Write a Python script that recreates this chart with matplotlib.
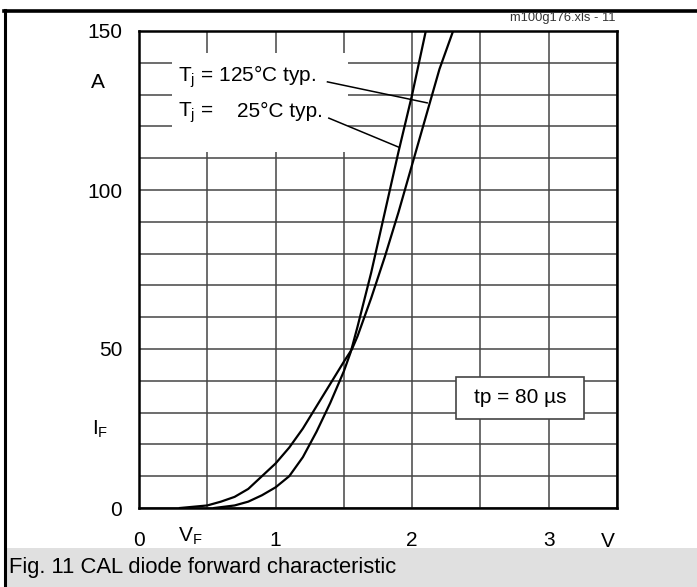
import numpy as np
import matplotlib
matplotlib.use("Agg")
import matplotlib.pyplot as plt
from matplotlib.patches import Rectangle
from matplotlib.lines import Line2D

plt.rcParams['font.family'] = ['Liberation Sans', 'DejaVu Sans']
plt.rcParams['mathtext.fontset'] = 'custom'
plt.rcParams['mathtext.rm'] = 'Liberation Sans'
plt.rcParams['mathtext.it'] = 'Liberation Sans'

# forward characteristic
v_25 = [0.55, 0.7, 0.8, 0.9, 1.0, 1.1, 1.2, 1.3, 1.4, 1.5, 1.55, 1.6, 1.7, 1.8, 1.9, 2.0, 2.1]
i_25 = [0, 0.8, 2, 4, 6.5, 10, 16, 24, 33, 43, 49, 57, 74, 93, 112, 130, 150]
v_125 = [0.3, 0.5, 0.6, 0.7, 0.8, 0.9, 1.0, 1.1, 1.2, 1.3, 1.4, 1.5, 1.56, 1.6, 1.7, 1.8, 1.9, 2.0, 2.1, 2.2, 2.3]
i_125 = [0, 0.8, 2, 3.5, 6, 10, 14, 19, 25, 32, 39, 46, 50, 54, 66, 79, 93, 108, 123, 138, 150]

x_ticks = [0, 0.5, 1, 1.5, 2, 2.5, 3, 3.5]
x_labels = ['0', '', '1', '', '2', '', '3', '']
y_ticks = list(range(0, 151, 10))
y_labels = [str(t) if t % 50 == 0 else '' for t in y_ticks]

FS = 15

fig = plt.figure(figsize=(6.97, 5.87), dpi=100)
ax = fig.add_axes([139/697, 1-508/587, 478/697, 477/587])

ax.plot(v_25, i_25, color='black', lw=1.6, zorder=3)
ax.plot(v_125, i_125, color='black', lw=1.6, zorder=3)

ax.set_xlim(0, 3.5)
ax.set_ylim(0, 150)
ax.set_xticks(x_ticks)
ax.set_xticklabels(x_labels)
ax.set_yticks(y_ticks)
ax.set_yticklabels(y_labels)
ax.tick_params(length=0, labelsize=FS)
ax.tick_params(axis='y', pad=12.2)
ax.tick_params(axis='x', pad=16.5)
ax.grid(True, color='#454545', lw=1.1)
ax.set_axisbelow(True)
for s in ax.spines.values():
    s.set_linewidth(1.8)
    s.set_zorder(5)

# white area behind the labels
ax.add_patch(Rectangle((0.24, 112), 1.29, 31, facecolor='white', edgecolor='none', zorder=1))

ax.text(0.286, 134.0, r'T$_{\rm j}$ = 125°C typ.', fontsize=FS, va='baseline', ha='left', zorder=6)
ax.text(0.286, 123.0, r'T$_{\rm j}$ =', fontsize=FS, va='baseline', ha='left', zorder=6)
ax.text(1.345, 123.0, '25°C typ.', fontsize=FS, va='baseline', ha='right', zorder=6)
ax.plot([1.38, 2.11], [134, 127.4], color='black', lw=1.1, zorder=3)
ax.plot([1.39, 1.90], [122.6, 113.5], color='black', lw=1.1, zorder=3)

# tp box
ax.add_patch(Rectangle((2.32, 28), 0.94, 13.2, facecolor='white', edgecolor='#444444', lw=1.2, zorder=4))
ax.text(2.79, 34.6, 'tp = 80 µs', fontsize=FS, ha='center', va='center', zorder=6)

# unit labels
ax.text(-41/478, 132.2, 'A', fontsize=FS, ha='center', va='baseline',
        transform=ax.get_yaxis_transform())
ax.text(-39/478, 23.0, r'I$_{\rm F}$', fontsize=FS, ha='center', va='baseline',
        transform=ax.get_yaxis_transform())
ax.text(0.374, -10.7, r'V$_{\rm F}$', fontsize=FS, ha='center', va='baseline', clip_on=False)
ax.text(3.43, -12.3, 'V', fontsize=FS, ha='center', va='baseline', clip_on=False)

# frame and caption
fig.add_artist(Rectangle((5/697, 0), 1, 39/587, transform=fig.transFigure,
                         facecolor='#e0e0e0', edgecolor='none'))
fig.add_artist(Line2D([4/697, 1], [1-10.5/587, 1-10.5/587], color='black', lw=2.6,
                      transform=fig.transFigure))
fig.add_artist(Line2D([5/697, 5/697], [0, 1-10/587], color='black', lw=2.2,
                      transform=fig.transFigure))
fig.text(9/697, 1-567/587, 'Fig. 11 CAL diode forward characteristic', fontsize=15.8,
         ha='left', va='center')
fig.text(615/697, 1-18/587, 'm100g176.xls - 11', fontsize=9.3, ha='right', va='center',
         color='#333333')

fig.savefig('out.png', dpi=100)
